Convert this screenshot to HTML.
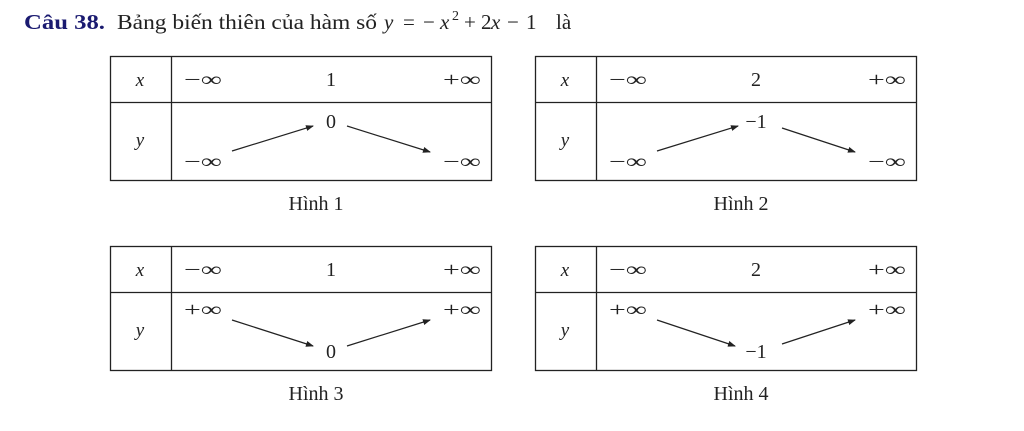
<!DOCTYPE html>
<html><head><meta charset="utf-8"><style>
body{margin:0;background:#fff;width:1024px;height:426px;overflow:hidden}
svg text{font-family:"Liberation Serif",serif;fill:#222}
</style></head><body>
<svg width="1024" height="426" viewBox="0 0 1024 426" xmlns="http://www.w3.org/2000/svg">
<defs><marker id="a" markerWidth="8" markerHeight="6" refX="7" refY="3" orient="auto" markerUnits="userSpaceOnUse"><path d="M0,0 L8,3 L0,6 z" fill="#222"/></marker></defs>
<g font-size="21">
<text x="24" y="29" font-weight="bold" style="fill:#1a1a70" textLength="81" lengthAdjust="spacingAndGlyphs">Câu 38.</text>
<text x="117" y="29" textLength="260" lengthAdjust="spacingAndGlyphs">Bảng biến thiên của hàm số</text>
<text x="384" y="29" font-style="italic">y</text>
<text x="403" y="29">=</text>
<text x="423" y="29">−</text>
<text x="440" y="29" font-style="italic">x</text>
<text x="452" y="20" font-size="14">2</text>
<text x="464" y="29">+</text>
<text x="481" y="29">2</text>
<text x="491" y="29" font-style="italic">x</text>
<text x="507" y="29">−</text>
<text x="526" y="29">1</text>
<text x="556" y="29">là</text>
</g>
<g id="t1">
<rect x="110.5" y="56.5" width="381" height="124" fill="none" stroke="#222" stroke-width="1.3"/>
<line x1="171.5" y1="56" x2="171.5" y2="181" stroke="#222" stroke-width="1.3"/>
<line x1="110" y1="102.5" x2="492" y2="102.5" stroke="#222" stroke-width="1.3"/>
<text x="140" y="86" font-size="19" font-style="italic" text-anchor="middle">x</text>
<text x="140" y="146" font-size="19" font-style="italic" text-anchor="middle">y</text>
<text x="203" y="86" font-size="20" text-anchor="middle" textLength="38" lengthAdjust="spacingAndGlyphs">−∞</text>
<text x="462" y="86" font-size="20" text-anchor="middle" textLength="38" lengthAdjust="spacingAndGlyphs">+∞</text>
</g>
<use href="#t1" x="425"/>
<use href="#t1" y="190"/>
<use href="#t1" x="425" y="190"/>
<g font-size="20" text-anchor="middle">
<text x="331" y="86">1</text><text x="756" y="86">2</text>
<text x="331" y="276">1</text><text x="756" y="276">2</text>
<text x="331" y="128">0</text><text x="756" y="128">−1</text><text x="756" y="358">−1</text><text x="331" y="358">0</text>
</g>
<g font-size="20" text-anchor="middle">
<text x="203" y="168" textLength="38" lengthAdjust="spacingAndGlyphs">−∞</text><text x="462" y="168" textLength="38" lengthAdjust="spacingAndGlyphs">−∞</text>
<text x="628" y="168" textLength="38" lengthAdjust="spacingAndGlyphs">−∞</text><text x="887" y="168" textLength="38" lengthAdjust="spacingAndGlyphs">−∞</text>
<text x="203" y="316" textLength="38" lengthAdjust="spacingAndGlyphs">+∞</text><text x="462" y="316" textLength="38" lengthAdjust="spacingAndGlyphs">+∞</text>
<text x="628" y="316" textLength="38" lengthAdjust="spacingAndGlyphs">+∞</text><text x="887" y="316" textLength="38" lengthAdjust="spacingAndGlyphs">+∞</text>
</g>
<g font-size="20" text-anchor="middle">
<text x="316" y="210">Hình 1</text><text x="741" y="210">Hình 2</text>
<text x="316" y="400">Hình 3</text><text x="741" y="400">Hình 4</text>
</g>
<g stroke="#222" stroke-width="1.2" marker-end="url(#a)">
<line x1="232" y1="151" x2="313" y2="126"/><line x1="347" y1="126" x2="430" y2="152"/>
<line x1="657" y1="151" x2="738" y2="126"/><line x1="782" y1="128" x2="855" y2="152"/>
<line x1="232" y1="320" x2="313" y2="346"/><line x1="347" y1="346" x2="430" y2="320"/>
<line x1="657" y1="320" x2="735" y2="346"/><line x1="782" y1="344" x2="855" y2="320"/>
</g>
</svg>
</body></html>
